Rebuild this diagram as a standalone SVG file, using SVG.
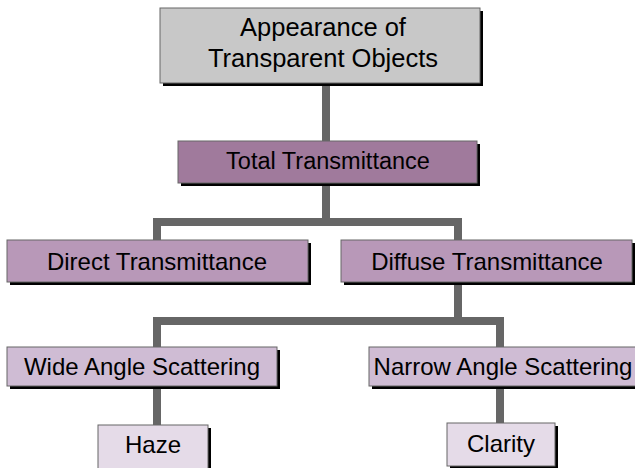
<svg xmlns="http://www.w3.org/2000/svg" width="635" height="468" viewBox="0 0 635 468">
<style>
.sh{fill:#000}
.bx{stroke:#666;stroke-width:1}
.t{font-family:"Liberation Sans",Arial,sans-serif;font-size:24px;fill:#000;text-anchor:middle}
.c{fill:none;stroke:#666;stroke-width:8}
</style>
<rect width="635" height="468" fill="#fff"/>
<g id="connectors">
<path class="c" d="M326,83 V141"/>
<path class="c" d="M326,183 V222"/>
<path class="c" d="M157,240 V222 H458 V240"/>
<path class="c" d="M458,282 V321"/>
<path class="c" d="M157,347 V321 H500 V347"/>
<path class="c" d="M157,386 V425"/>
<path class="c" d="M500,386 V423"/>
</g>
<g id="appearance">
<rect class="sh" x="163" y="11" width="320" height="75"/>
<rect class="bx" x="160" y="8" width="320" height="75" fill="#c8c8c8"/>
<text class="t" x="323" y="36" style="font-size:25.5px">Appearance of</text>
<text class="t" x="323" y="67" style="font-size:25.5px">Transparent Objects</text>
</g>
<g id="total">
<rect class="sh" x="181" y="144" width="299" height="42"/>
<rect class="bx" x="178" y="141" width="299" height="42" fill="#a07a9c"/>
<text class="t" x="328" y="169" style="font-size:23.5px">Total Transmittance</text>
</g>
<g id="direct">
<rect class="sh" x="10" y="243" width="301" height="42"/>
<rect class="bx" x="7" y="240" width="301" height="42" fill="#b898b8"/>
<text class="t" x="157" y="270">Direct Transmittance</text>
</g>
<g id="diffuse">
<rect class="sh" x="344" y="243" width="291" height="42"/>
<rect class="bx" x="341" y="240" width="291" height="42" fill="#b898b8"/>
<text class="t" x="487" y="270">Diffuse Transmittance</text>
</g>
<g id="wide">
<rect class="sh" x="10" y="350" width="270" height="39"/>
<rect class="bx" x="7" y="347" width="270" height="39" fill="#cfbcd4"/>
<text class="t" x="142" y="375">Wide Angle Scattering</text>
</g>
<g id="narrow">
<rect class="sh" x="372" y="350" width="270" height="39"/>
<rect class="bx" x="369" y="347" width="270" height="39" fill="#cfbcd4"/>
<text class="t" x="503" y="375">Narrow Angle Scattering</text>
</g>
<g id="haze">
<rect class="sh" x="101" y="428" width="110" height="45"/>
<rect class="bx" x="98" y="425" width="110" height="45" fill="#e5dbe8"/>
<text class="t" x="153" y="453">Haze</text>
</g>
<g id="clarity">
<rect class="sh" x="450" y="426" width="108" height="43"/>
<rect class="bx" x="447" y="423" width="108" height="43" fill="#e5dbe8"/>
<text class="t" x="501" y="452">Clarity</text>
</g>
</svg>
